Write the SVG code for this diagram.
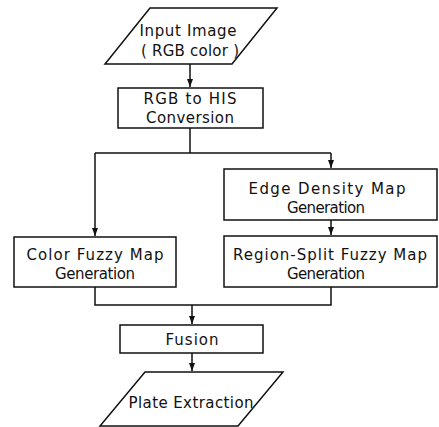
<svg xmlns="http://www.w3.org/2000/svg" width="439" height="427" viewBox="0 0 439 427">
<defs>
<marker id="arr" markerUnits="userSpaceOnUse" markerWidth="8" markerHeight="8" viewBox="0 0 8 8" refX="8" refY="4" orient="auto">
<path d="M0,1 L8,4 L0,7 Z" fill="#111"/>
</marker>
<style>
.s{fill:#fff;stroke:#111;stroke-width:1.5}
.c{fill:none;stroke:#111;stroke-width:1.5}
.t{font-family:"DejaVu Sans","Liberation Sans",sans-serif;font-size:15px;fill:#111;text-anchor:middle}
</style>
</defs>
<rect width="439" height="427" fill="#fff"/>
<g id="connectors">
<path class="c" d="M190,64 V87" marker-end="url(#arr)"/>
<path class="c" d="M190,128 V153"/>
<path class="c" d="M95,153 H331"/>
<path class="c" d="M95,153 V236" marker-end="url(#arr)"/>
<path class="c" d="M331,153 V168" marker-end="url(#arr)"/>
<path class="c" d="M331,220 V235" marker-end="url(#arr)"/>
<path class="c" d="M95,287 V305 H331 V287"/>
<path class="c" d="M192,305 V324" marker-end="url(#arr)"/>
<path class="c" d="M192,353 V371" marker-end="url(#arr)"/>
</g>
<g id="input">
<polygon class="s" points="150,8 277,8 232,64 105,64"/>
<text class="t" x="188" y="36" textLength="97" lengthAdjust="spacing">Input Image</text>
<text class="t" x="190" y="56" textLength="98" lengthAdjust="spacing">( RGB color )</text>
</g>
<g id="rgb2his">
<rect class="s" x="118" y="88" width="145" height="40"/>
<text class="t" x="190" y="104" textLength="93" lengthAdjust="spacing">RGB to HIS</text>
<text class="t" x="190" y="123" textLength="88" lengthAdjust="spacing">Conversion</text>
</g>
<g id="edge">
<rect class="s" x="224" y="169" width="213" height="51"/>
<text class="t" x="327" y="194" textLength="157" lengthAdjust="spacing">Edge Density Map</text>
<text class="t" x="326" y="213" textLength="78" lengthAdjust="spacing">Generation</text>
</g>
<g id="region">
<rect class="s" x="224" y="236" width="213" height="51"/>
<text class="t" x="330" y="260" textLength="194" lengthAdjust="spacing">Region-Split Fuzzy Map</text>
<text class="t" x="326" y="279" textLength="78" lengthAdjust="spacing">Generation</text>
</g>
<g id="color">
<rect class="s" x="14" y="237" width="162" height="50"/>
<text class="t" x="95" y="260" textLength="137" lengthAdjust="spacing">Color Fuzzy Map</text>
<text class="t" x="95" y="279" textLength="80" lengthAdjust="spacing">Generation</text>
</g>
<g id="fusion">
<rect class="s" x="120" y="325" width="143" height="28"/>
<text class="t" x="192" y="345" textLength="53" lengthAdjust="spacing">Fusion</text>
</g>
<g id="plate">
<polygon class="s" points="145,372 283,372 238,426 100,426"/>
<text class="t" x="191" y="408" textLength="125" lengthAdjust="spacing">Plate Extraction</text>
</g>
</svg>
